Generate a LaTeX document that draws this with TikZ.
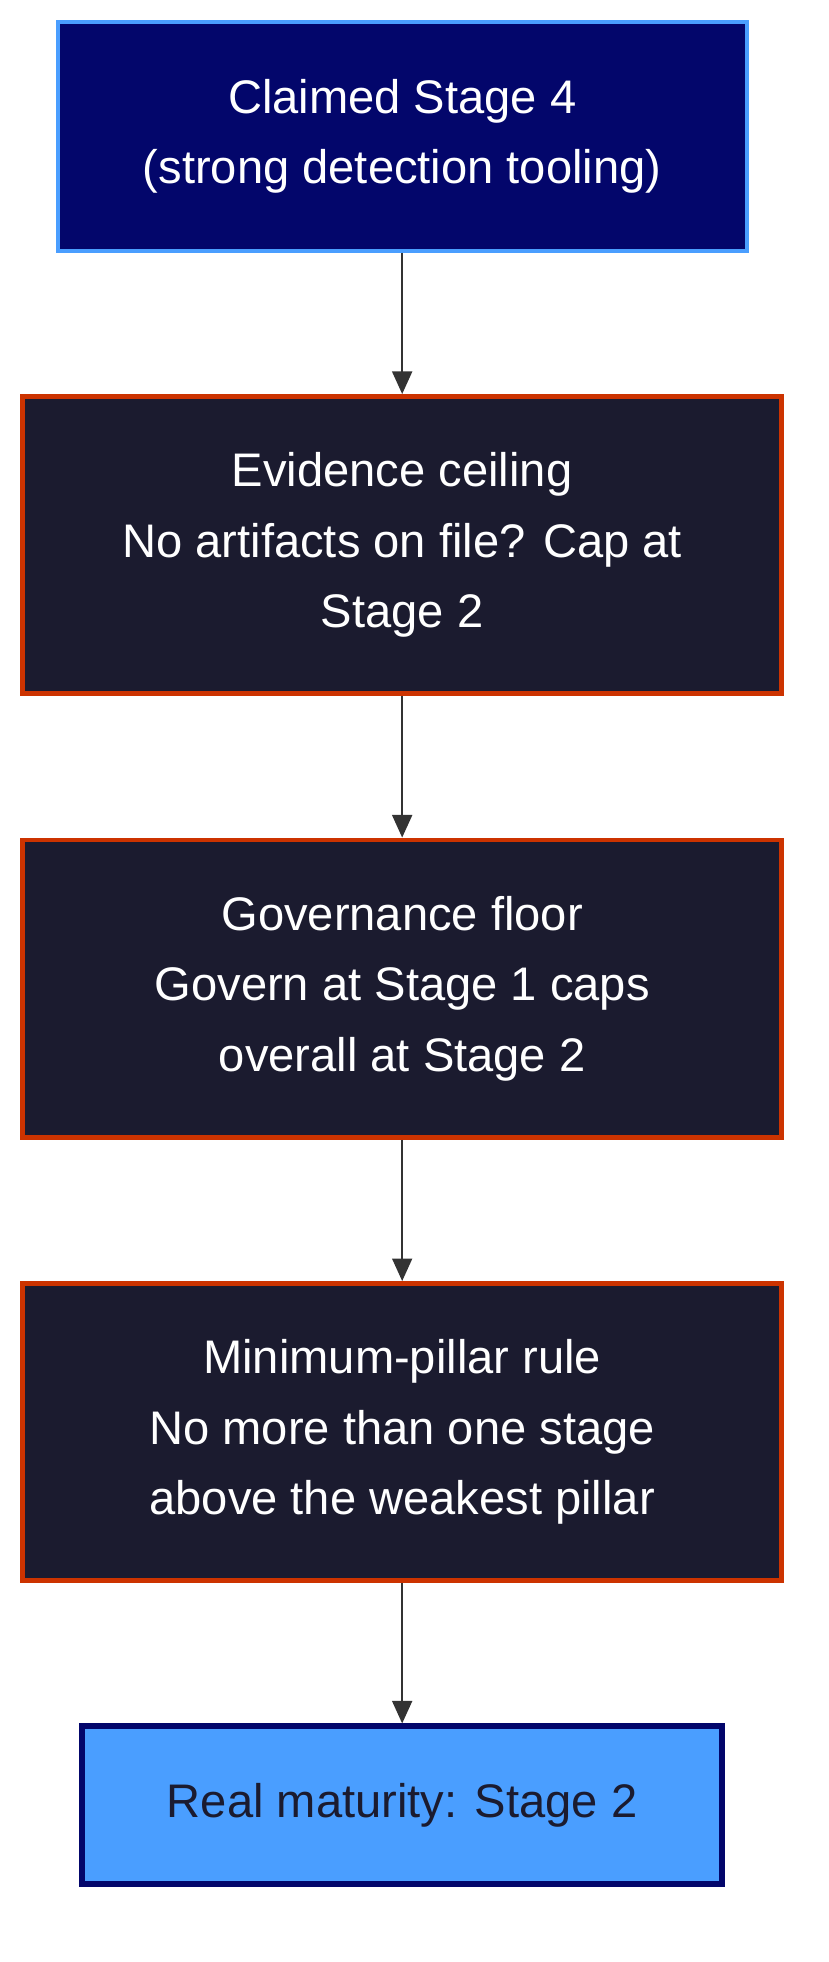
\documentclass[tikz,border=0pt]{standalone}
\usepackage{fontspec}
\setmainfont{Liberation Sans}
\usetikzlibrary{positioning,arrows.meta}
\definecolor{navy}{HTML}{03066B}
\definecolor{skyblue}{HTML}{4A9EFF}
\definecolor{slate}{HTML}{1B1B2F}
\definecolor{rust}{HTML}{CC3300}
\definecolor{linegray}{HTML}{333333}

\begin{document}
\begin{tikzpicture}[x=0.944pt,y=-0.944pt,
    stage/.style={draw, line width=3.5pt, inner sep=0pt, align=center,
      text=white, font=\fontsize{35.5}{53}\selectfont},
    claim/.style={stage, fill=navy, draw=skyblue, line width=3pt, minimum width=519pt, minimum height=172pt},
    check/.style={stage, fill=slate, draw=rust, minimum width=572pt, minimum height=224pt},
    result/.style={stage, fill=skyblue, draw=navy, line width=4.5pt, text=slate,
      minimum width=482pt, minimum height=119pt},
    flow/.style={draw=linegray, line width=1.6pt, -{Triangle[length=17pt,width=15pt]}}]
  %%%%% FRAME %%%%%
  \useasboundingbox (0,0) rectangle (661,1566);

  %%%%% NODES %%%%%
  \node[claim] (claimed) at (321,109) {Claimed Stage 4\\(strong detection tooling)};
  \node[check] (evidence) at (321,435) {Evidence ceiling\\No artifacts on file? Cap at\\Stage 2};
  \node[check] (governance) at (321,789) {Governance floor\\Govern at Stage 1 caps\\overall at Stage 2};
  \node[check] (pillar) at (321,1143) {Minimum-pillar rule\\No more than one stage\\above the weakest pillar};
  \node[result] (real) at (321,1441) {Real maturity: Stage 2};

  %%%%% ARROWS %%%%%
  \draw[flow] (claimed) -- (evidence);
  \draw[flow] (evidence) -- (governance);
  \draw[flow] (governance) -- (pillar);
  \draw[flow] (pillar) -- (real);
\end{tikzpicture}
\end{document}
